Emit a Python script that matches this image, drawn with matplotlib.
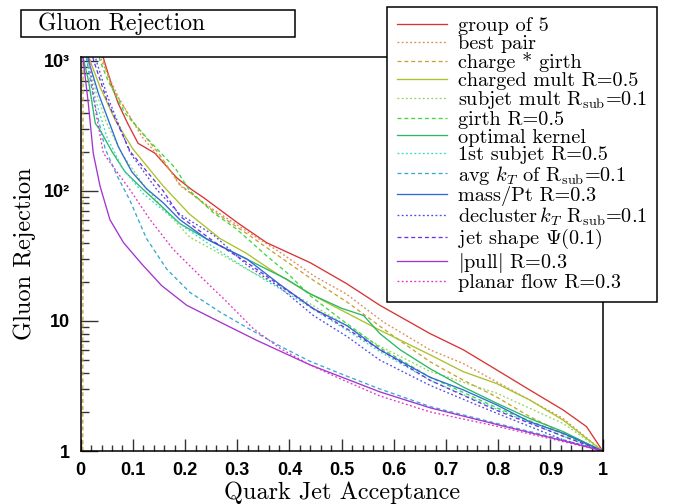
import matplotlib
matplotlib.use("Agg")
import matplotlib.pyplot as plt
from matplotlib.patches import Rectangle
from matplotlib.ticker import FixedLocator, NullFormatter

plt.rcParams['font.family'] = ['cmr10', 'DejaVu Serif']
plt.rcParams['mathtext.fontset'] = 'cm'
plt.rcParams['axes.unicode_minus'] = False

# ---------------- data ----------------
group5_x = [0.040, 0.045, 0.06, 0.072, 0.09, 0.110, 0.142, 0.184, 0.213, 0.235, 0.30, 0.356, 0.44, 0.51, 0.573, 0.669, 0.733, 0.797, 0.86, 0.924, 0.969, 1.0]
group5_y = [1200, 1000, 640, 470, 330, 232, 195, 126, 102, 89, 57, 40, 28, 19.3, 13.2, 8.0, 6.0, 4.2, 2.95, 2.07, 1.54, 1.0]

bestpair_x = [0.035, 0.040, 0.072, 0.117, 0.168, 0.19, 0.254, 0.318, 0.382, 0.446, 0.51, 0.58, 0.669, 0.733, 0.797, 0.86, 0.924, 1.0]
bestpair_y = [1200, 1000, 525, 262, 150, 110, 72, 49, 33.7, 22.3, 16.0, 9.8, 6.0, 4.7, 3.4, 2.47, 1.78, 1.0]

chgirth_x = [0.004, 0.0045, 0.04, 0.059, 0.098, 0.149, 0.19, 0.254, 0.318, 0.382, 0.446, 0.51, 0.60, 0.669, 0.733, 0.797, 0.86, 0.924, 1.0]
chgirth_y = [1.0, 1200, 1100, 630, 350, 195, 112, 70, 47, 31, 20.5, 14, 7.6, 4.86, 3.5, 2.6, 1.84, 1.37, 1.0]

chmult_x = [0.012, 0.018, 0.037, 0.066, 0.10, 0.158, 0.209, 0.267, 0.318, 0.369, 0.439, 0.51, 0.573, 0.669, 0.733, 0.797, 0.86, 0.924, 1.0]
chmult_y = [1200, 1000, 630, 350, 210, 109, 66, 43, 33, 24, 16.2, 11.5, 8.5, 5.5, 4.07, 3.3, 2.47, 1.73, 1.0]

subjmult_x = [0.010, 0.015, 0.03, 0.05, 0.08, 0.12, 0.16, 0.209, 0.255, 0.318, 0.38, 0.44, 0.51, 0.573, 0.669, 0.797, 0.924, 1.0]
subjmult_y = [1200, 1000, 560, 330, 190, 112, 72, 44, 35, 25, 18.5, 13.5, 9.2, 6.4, 4.1, 2.78, 1.63, 1.0]

girth_x = [0.033, 0.037, 0.052, 0.085, 0.136, 0.181, 0.209, 0.254, 0.299, 0.356, 0.394, 0.439, 0.497, 0.574, 0.669, 0.797, 0.924, 1.0]
girth_y = [1200, 1000, 708, 394, 232, 150, 100, 68, 50.7, 31.7, 23.7, 15.7, 10.4, 6.2, 3.7, 2.15, 1.35, 1.0]

optker_x = [0.002, 0.006, 0.015, 0.028, 0.037, 0.06, 0.085, 0.117, 0.149, 0.19, 0.242, 0.292, 0.343, 0.394, 0.439, 0.50, 0.542, 0.573, 0.612, 0.669, 0.733, 0.797, 0.86, 0.924, 1.0]
optker_y = [1200, 1000, 700, 330, 294, 200, 140, 105, 80, 56, 42.5, 33.7, 26.6, 21, 16.2, 12.5, 11, 8.0, 6.0, 4.3, 3.1, 2.33, 1.78, 1.41, 1.0]

subj1_x = [0.008, 0.012, 0.03, 0.05, 0.08, 0.12, 0.16, 0.20, 0.25, 0.30, 0.35, 0.40, 0.45, 0.50, 0.573, 0.669, 0.797, 0.924, 1.0]
subj1_y = [1200, 1000, 480, 260, 150, 95, 70, 52, 38, 28, 21, 16, 12, 9.0, 5.8, 3.5, 2.1, 1.3, 1.0]

avgkt_x = [0.008, 0.012, 0.025, 0.047, 0.07, 0.094, 0.126, 0.165, 0.209, 0.267, 0.318, 0.382, 0.439, 0.50, 0.573, 0.669, 0.797, 0.924, 1.0]
avgkt_y = [1200, 1000, 500, 210, 130, 85, 43, 25, 16.6, 11.7, 8.9, 6.4, 4.9, 3.9, 3.0, 2.2, 1.63, 1.22, 1.0]

masspt_x = [0.012, 0.015, 0.034, 0.053, 0.072, 0.098, 0.126, 0.158, 0.19, 0.242, 0.292, 0.318, 0.382, 0.446, 0.51, 0.573, 0.669, 0.733, 0.797, 0.86, 0.924, 1.0]
masspt_y = [1200, 1000, 560, 350, 219, 140, 104, 81, 60, 42.5, 33.7, 30, 19, 12.4, 9.2, 6.0, 3.69, 2.95, 2.26, 1.68, 1.37, 1.0]

declus_x = [0.025, 0.03, 0.05, 0.072, 0.095, 0.146, 0.19, 0.254, 0.318, 0.382, 0.446, 0.51, 0.573, 0.669, 0.797, 0.924, 1.0]
declus_y = [1200, 1000, 550, 330, 195, 102, 66, 46, 27, 18, 11, 7.6, 5.0, 3.2, 1.95, 1.22, 1.0]

jetshape_x = [0.02, 0.025, 0.05, 0.075, 0.095, 0.158, 0.19, 0.254, 0.318, 0.382, 0.446, 0.51, 0.574, 0.669, 0.797, 0.924, 1.0]
jetshape_y = [1200, 1000, 500, 300, 200, 100, 64, 41, 28.2, 18.7, 12.4, 8.7, 6.0, 3.5, 2.05, 1.3, 1.0]

pull_x = [0.004, 0.005, 0.0146, 0.024, 0.037, 0.056, 0.082, 0.117, 0.155, 0.203, 0.267, 0.337, 0.439, 0.50, 0.573, 0.669, 0.797, 0.924, 1.0]
pull_y = [1200, 1000, 470, 195, 109, 60, 40, 27.4, 18.7, 13.2, 9.8, 7.1, 4.6, 3.7, 2.85, 2.15, 1.6, 1.2, 1.0]

planar_x = [0.015, 0.021, 0.030, 0.0434, 0.0944, 0.133, 0.177, 0.228, 0.280, 0.331, 0.382, 0.439, 0.50, 0.573, 0.669, 0.797, 0.924, 1.0]
planar_y = [1200, 700, 380, 195, 102, 60, 35.6, 22.3, 14, 8.7, 6.15, 4.6, 3.55, 2.65, 2.0, 1.55, 1.18, 1.0]

labels = [
    "group of 5",
    "best pair",
    "charge * girth",
    "charged mult R=0.5",
    r"subjet mult R$_{\mathrm{sub}}$=0.1",
    "girth R=0.5",
    "optimal kernel",
    "1st subjet R=0.5",
    r"avg $k_T$ of R$_{\mathrm{sub}}$=0.1",
    "mass/Pt R=0.3",
    r"decluster$\,k_T$ R$_{\mathrm{sub}}$=0.1",
    r"jet shape $\Psi$(0.1)",
    r"$|$pull$|$ R=0.3",
    "planar flow R=0.3",
]
series_x = [group5_x, bestpair_x, chgirth_x, chmult_x, subjmult_x, girth_x, optker_x,
            subj1_x, avgkt_x, masspt_x, declus_x, jetshape_x, pull_x, planar_x]
series_y = [group5_y, bestpair_y, chgirth_y, chmult_y, subjmult_y, girth_y, optker_y,
            subj1_y, avgkt_y, masspt_y, declus_y, jetshape_y, pull_y, planar_y]

xtick_vals = [0, 0.1, 0.2, 0.3, 0.4, 0.5, 0.6, 0.7, 0.8, 0.9, 1.0]
xtick_labels = ["0", "0.1", "0.2", "0.3", "0.4", "0.5", "0.6", "0.7", "0.8", "0.9", "1"]
ytick_vals = [1, 10, 100, 1000]
ytick_labels = ["1", "10", "10\u00b2", "10\u00b3"]

# ---------------- styles ----------------
colors = ['#d83434', '#e0885a', '#c9a236', '#a9c22a', '#92d65a', '#3fd83f', '#2ab866',
          '#36dcc6', '#36aad2', '#2c6cd4', '#4c4ce2', '#7032dc', '#a434d0', '#e034c6']
DOT = (0, (1.4, 1.8))
DASH = (0, (3.0, 2.2))
styles = ['-', DOT, DASH, '-', DOT, DASH, '-', DOT, DASH, '-', DOT, DASH, '-', DOT]

W, H = 675, 504
fig = plt.figure(figsize=(W / 100, H / 100), dpi=100)
ax = fig.add_axes([80.7 / W, 53 / H, 522 / W, (451 - 57) / H])

handles = []
for xs, ys, c, ls, lab in zip(series_x, series_y, colors, styles, labels):
    h, = ax.plot(xs, ys, color=c, linestyle=ls, linewidth=0.95, label=lab)
    handles.append(h)

ax.set_yscale('log')
ax.set_xlim(0, 1)
ax.set_ylim(1, 1070)

tick_font = dict(fontsize=13, fontweight='bold', family='Liberation Sans')
ax.set_xticks(xtick_vals, xtick_labels, **tick_font)
ax.xaxis.set_minor_locator(FixedLocator([i * 0.02 for i in range(51)]))
ax.set_yticks(ytick_vals, ytick_labels, **tick_font)
ax.yaxis.set_minor_locator(FixedLocator([m * 10 ** d for d in range(3) for m in range(2, 10)]))
ax.yaxis.set_minor_formatter(NullFormatter())

ax.tick_params(axis='both', which='both', direction='in', top=False, right=False, color='#333333')
ax.tick_params(axis='x', which='major', length=8.5, width=1.0, pad=8)
ax.tick_params(axis='x', which='minor', length=4.5, width=1.0)
ax.tick_params(axis='y', which='major', length=12, width=1.0, pad=8)
ax.tick_params(axis='y', which='minor', length=5.5, width=1.0)
for sp in ax.spines.values():
    sp.set_linewidth(1.1)

ax.set_xlabel("Quark Jet Acceptance", fontsize=17.5)
ax.set_ylabel("Gluon Rejection", fontsize=17.5)
ax.xaxis.set_label_coords(0.5, -0.078)
ax.yaxis.set_label_coords(-0.086, 0.5)

# title box
fig.patches.append(Rectangle((21 / W, 1 - 37 / H), 274 / W, 27 / H, transform=fig.transFigure,
                             facecolor='white', edgecolor='black', linewidth=1.1))
fig.text(38 / W, 1 - 23.5 / H, "Gluon Rejection", fontsize=17, ha='left', va='center')

leg = fig.legend(handles=handles, labels=labels, loc='upper left',
                 bbox_to_anchor=(387 / W, 1 - 7 / H), borderaxespad=0,
                 fontsize=14.6, frameon=True, fancybox=False, framealpha=1,
                 edgecolor='black', handlelength=2.45, handletextpad=0.55,
                 borderpad=0.5, labelspacing=-0.03)
leg.get_frame().set_linewidth(1.1)

fig.savefig("out.png", dpi=100)
